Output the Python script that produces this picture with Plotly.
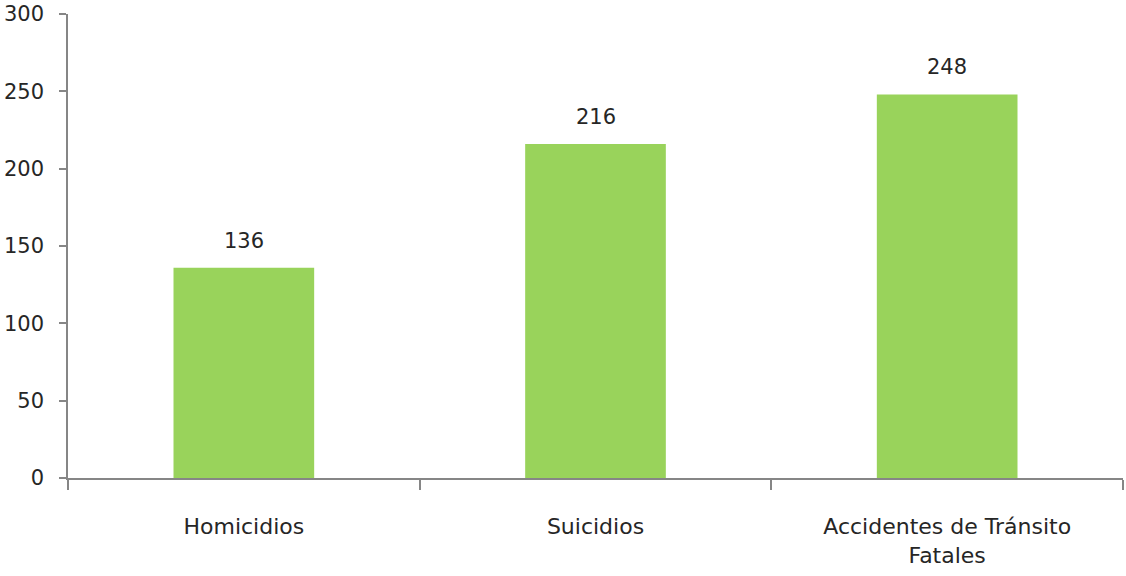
import plotly.graph_objects as go

categories = ["Homicidios", "Suicidios", "Accidentes de Tránsito<br>Fatales"]
values = [136, 216, 248]
y_ticks = [0, 50, 100, 150, 200, 250, 300]

FONT = "DejaVu Sans, Liberation Sans, sans-serif"
AXIS = "#868686"
TXT = "#262626"

fig = go.Figure()
fig.add_trace(go.Bar(
    x=categories, y=values,
    marker=dict(color="#99D35B", line=dict(width=0)),
    width=0.4, hoverinfo="x+y",
))
for c, v in zip(categories, values):
    fig.add_annotation(x=c, y=v, text=str(v), showarrow=False,
                       yanchor="bottom", yshift=13,
                       font=dict(family=FONT, size=21, color=TXT))

fig.update_layout(
    width=1126, height=576,
    margin=dict(l=68, r=3, t=14, b=98, autoexpand=False),
    paper_bgcolor="white", plot_bgcolor="white",
    showlegend=False, bargap=0.6,
    font=dict(family=FONT, size=21, color=TXT),
)
fig.update_xaxes(
    type="category", tickson="boundaries", ticks="outside", ticklen=10,
    tickcolor=AXIS, tickwidth=1.5, showline=True, linecolor=AXIS, linewidth=1.5,
    showgrid=False, ticklabelstandoff=28, automargin=False,
    tickfont=dict(family=FONT, size=22, color=TXT),
)
fig.update_yaxes(
    range=[0, 300], tickvals=y_ticks, ticks="outside", ticklen=7,
    tickcolor=AXIS, tickwidth=1.5, showline=True, linecolor=AXIS, linewidth=1.5,
    showgrid=False, zeroline=False, ticklabelstandoff=11, automargin=False,
    tickfont=dict(family=FONT, size=21, color=TXT),
)

fig.write_html("out.html", config={"displayModeBar": False},
               post_script="document.body.style.margin='0';")
